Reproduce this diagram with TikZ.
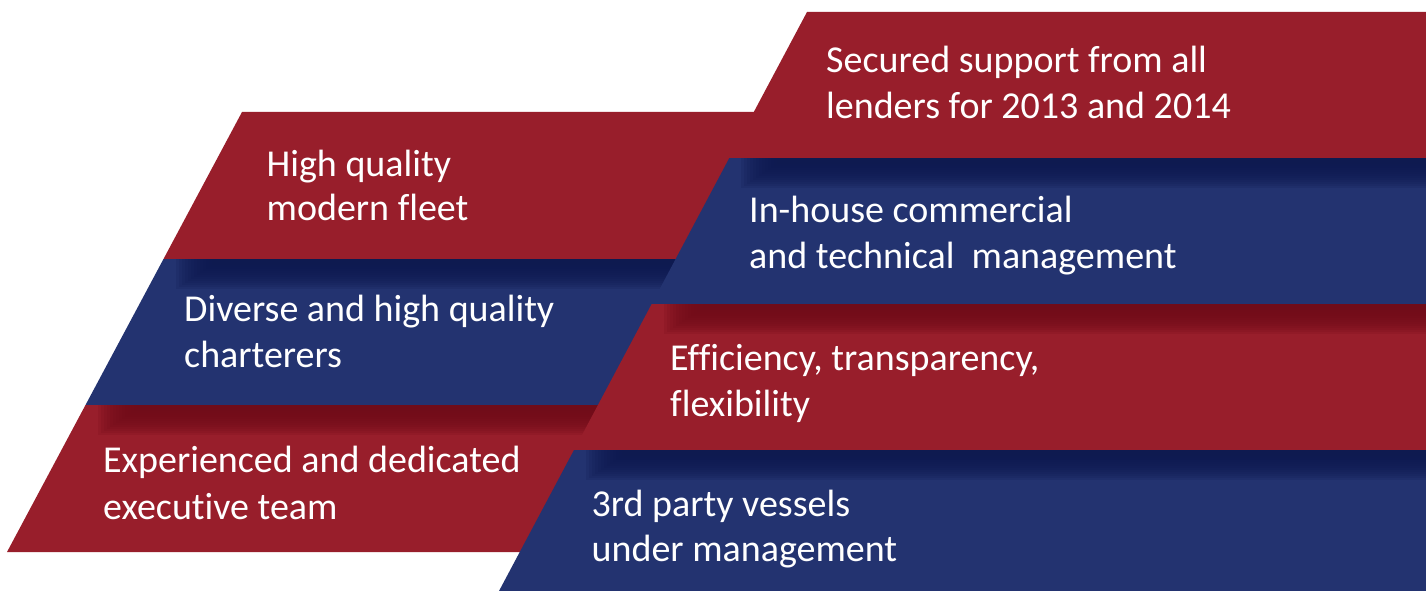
\documentclass[tikz,border=0pt]{standalone}
\usepackage{fontspec}
\setmainfont{Carlito}[Ligatures={NoCommon}]
\definecolor{bandred}{RGB}{152,30,43}
\definecolor{bandblue}{RGB}{35,51,112}
\definecolor{shadered}{RGB}{112,12,25}
\definecolor{shadeblue}{RGB}{14,26,80}
\newcommand\bandshade[4]{%
  \foreach \i in {0,...,13}{%
    \fill[#4, opacity=0.17] ({#1+12+3*\i}, #2) rectangle (#3, {#2+30-2*\i});
  }%
}
\tikzset{
  bandtext/.style={anchor=base west, inner sep=0pt, text=white,
    font=\fontsize{38}{46}\selectfont}
}
\begin{document}
\begin{tikzpicture}[x=1pt, y=-1pt]
\useasboundingbox (0,0) rectangle (1426,591);
% left column
\fill[bandred] (242,112) -- (1000,112) -- (1000,259) -- (163.5,259) -- cycle;
\fill[bandblue] (163.5,259) -- (1000,259) -- (1000,405) -- (85.5,405) -- cycle;
\bandshade{163.5}{259}{1000}{shadeblue}
\fill[bandred] (85.5,405) -- (1000,405) -- (1000,552) -- (7,552) -- cycle;
\bandshade{85.5}{405}{1000}{shadered}
% right column
\fill[bandred] (807,12) -- (1426,12) -- (1426,158) -- (729.3,158) -- cycle;
\fill[bandblue] (729.3,158) -- (1426,158) -- (1426,304) -- (651.7,304) -- cycle;
\bandshade{729.3}{158}{1426}{shadeblue}
\fill[bandred] (651.7,304) -- (1426,304) -- (1426,450) -- (574,450) -- cycle;
\bandshade{651.7}{304}{1426}{shadered}
\fill[bandblue] (574,450) -- (1426,450) -- (1426,591) -- (499,591) -- cycle;
\bandshade{574}{450}{1426}{shadeblue}
% texts
\node[bandtext] (r1a) at (826,72.7) {Secured support from all};
\node[bandtext] (r1b) at (826,119) {lenders for 2013 and 2014};
\node[bandtext] (l1a) at (266.5,176.7) {High quality};
\node[bandtext] (l1b) at (266.5,220.7) {modern fleet};
\node[bandtext] (r2a) at (749,222.7) {In-house commercial};
\node[bandtext] (r2b) at (749,268.3) {and technical\ \ management};
\node[bandtext] (l2a) at (184,321) {Diverse and high quality};
\node[bandtext] (l2b) at (184,367.7) {charterers};
\node[bandtext] (r3a) at (670,370) {Efficiency, transparency,};
\node[bandtext] (r3b) at (670,416) {flexibility};
\node[bandtext] (l3a) at (103,472.7) {Experienced and dedicated};
\node[bandtext] (l3b) at (103,519.3) {executive team};
\node[bandtext] (r4a) at (591.5,516.7) {3rd party vessels};
\node[bandtext] (r4b) at (591.5,561.7) {under management};
\end{tikzpicture}
\end{document}
